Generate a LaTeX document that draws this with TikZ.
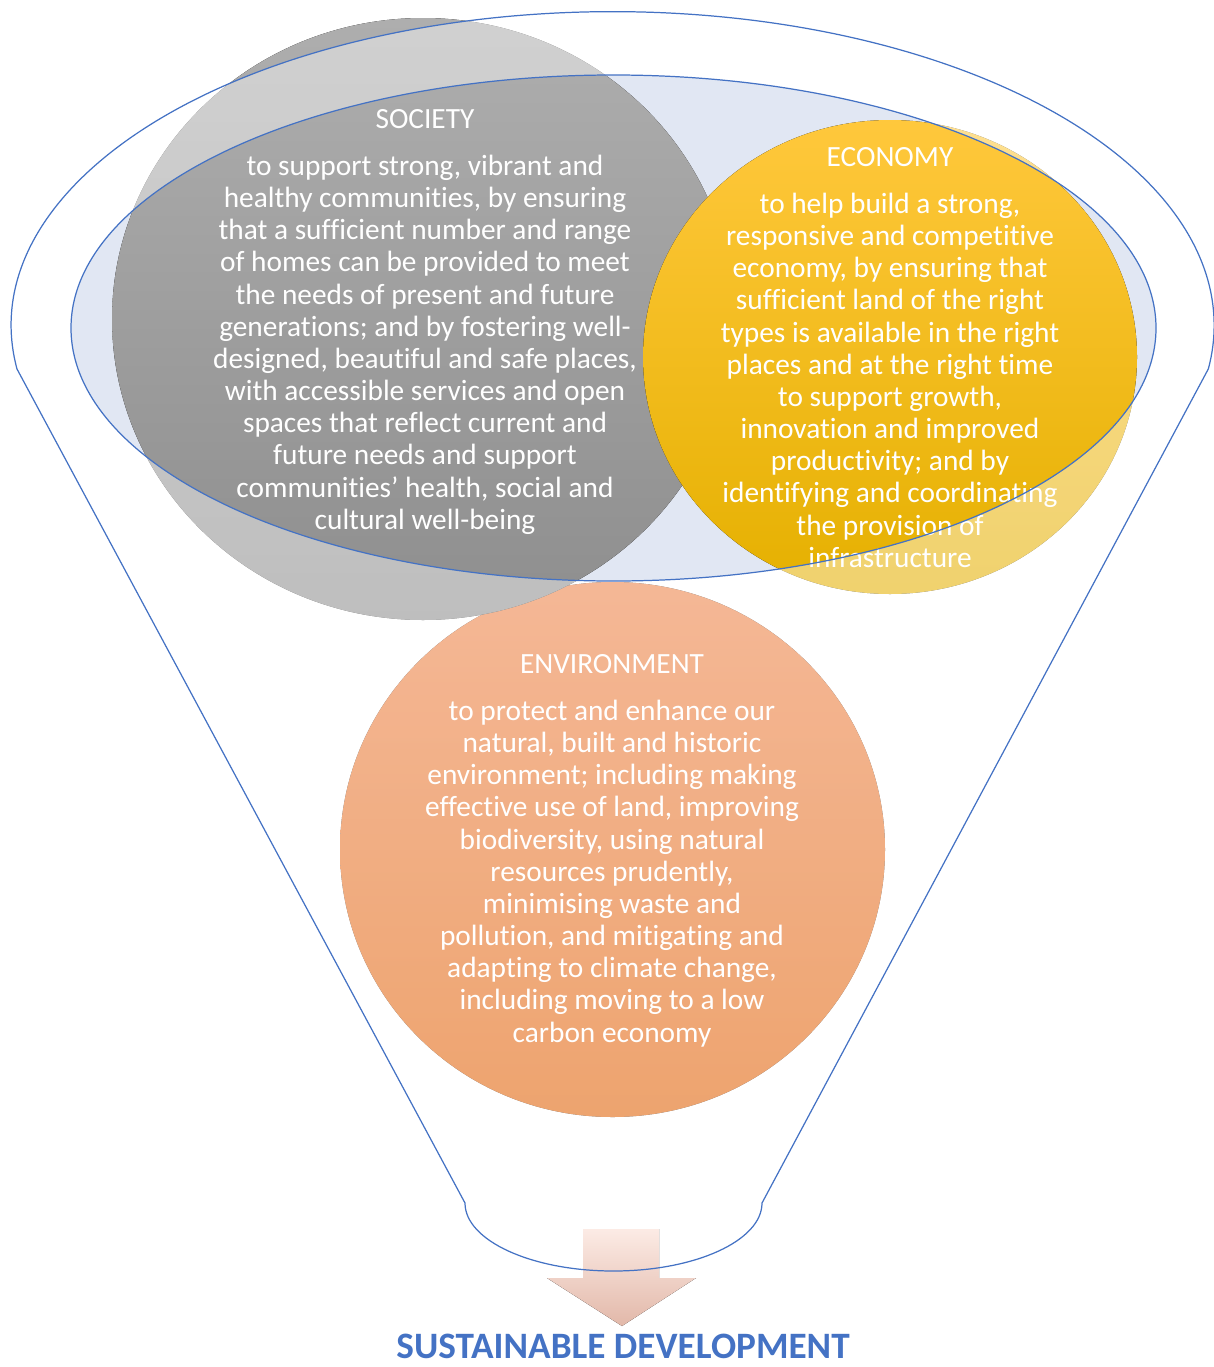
\documentclass[tikz,border=0pt]{standalone}
\usepackage{fontspec}
\setmainfont{Carlito}[Ligatures=NoCommon]
\usepackage{tikz}
\usetikzlibrary{positioning}
\definecolor{funnelblue}{HTML}{4472C4}
\definecolor{mouthblue}{HTML}{E1E7F3}
\definecolor{socgrayA}{HTML}{AEAEAE}
\definecolor{socgrayB}{HTML}{8E8E8E}
\definecolor{ecoyellowA}{HTML}{FFC83C}
\definecolor{ecoyellowB}{HTML}{FCC200}
\definecolor{ecoyellowC}{HTML}{E5B000}
\definecolor{envorangeA}{HTML}{ED8247}
\definecolor{envorangeB}{HTML}{E15F02}
\definecolor{arrowpinkA}{HTML}{FCEBE5}
\definecolor{arrowpinkB}{HTML}{E2B8A9}
\tikzstyle{heading} = [anchor=base, inner sep=0pt, text depth=0pt, text=white, font=\fontsize{16.7}{18.3}\selectfont]
\tikzstyle{blurb} = [anchor=north, inner sep=0pt, align=center, text=white, font=\fontsize{16.7}{18.3}\selectfont]
\tikzstyle{outline} = [draw=funnelblue, line width=0.7pt]
\tikzstyle{veil} = [white, fill opacity=0.43, even odd rule]
\begin{document}
\begin{tikzpicture}[x=0.2mm, y=0.2mm]
\useasboundingbox (0,0) rectangle (1214,-1367);
\fill[mouthblue] (613.5,-328) ellipse[x radius=542.5, y radius=253];
\fill[top color=envorangeA, bottom color=envorangeB] (612.5,-849.5) ellipse[x radius=272.5, y radius=267.5];
\fill[top color=socgrayA, bottom color=socgrayB] (423,-319) ellipse[x radius=311, y radius=301];
\fill[top color=ecoyellowA, middle color=ecoyellowB, bottom color=ecoyellowC] (890,-357) ellipse[x radius=247, y radius=237];
\fill[veil] (17,-369) arc[start angle=188, end angle=-8, x radius=601.5, y radius=313.7] -- (762,-1203) arc[start angle=0, end angle=-180, x radius=148.5, y radius=68] -- cycle (613.5,-328) ellipse[x radius=542.5, y radius=253];
\fill[top color=arrowpinkA, bottom color=arrowpinkB] (583,-1229) -- (659,-1229) -- (659,-1278) -- (696,-1278) -- (622,-1326) -- (547,-1278) -- (583,-1278) -- cycle;
\node (soc) [heading] at (425,-128) {SOCIETY};
\node (soctxt) [blurb, below=13.8pt of soc] {\strut to support strong, vibrant and\\ healthy communities, by ensuring\\ that a sufficient number and range\\ of homes can be provided to meet\\ the needs of present and future\\ generations; and by fostering well-\\ designed, beautiful and safe places,\\ with accessible services and open\\ spaces that reflect current and\\ future needs and support\\ communities’ health, social and\\ cultural well-being};
\node (eco) [heading] at (890,-166) {ECONOMY};
\node (ecotxt) [blurb, below=13.8pt of eco] {\strut to help build a strong,\\ responsive and competitive\\ economy, by ensuring that\\ sufficient land of the right\\ types is available in the right\\ places and at the right time\\ to support growth,\\ innovation and improved\\ productivity; and by\\ identifying and coordinating\\ the provision of\\ infrastructure};
\node (env) [heading] at (612,-673) {ENVIRONMENT};
\node (envtxt) [blurb, below=13.8pt of env] {\strut to protect and enhance our\\ natural, built and historic\\ environment; including making\\ effective use of land, improving\\ biodiversity, using natural\\ resources prudently,\\ minimising waste and\\ pollution, and mitigating and\\ adapting to climate change,\\ including moving to a low\\ carbon economy};
\draw[outline] (17,-369) arc[start angle=188, end angle=-8, x radius=601.5, y radius=313.7] -- (762,-1203) arc[start angle=0, end angle=-180, x radius=148.5, y radius=68] -- cycle;
\draw[outline] (613.5,-328) ellipse[x radius=542.5, y radius=253];
\node (sd) [anchor=base, inner sep=0pt, text depth=0pt, text=funnelblue, font=\fontsize{21.2}{25}\selectfont\bfseries] at (623,-1358) {SUSTAINABLE DEVELOPMENT};
\end{tikzpicture}
\end{document}
